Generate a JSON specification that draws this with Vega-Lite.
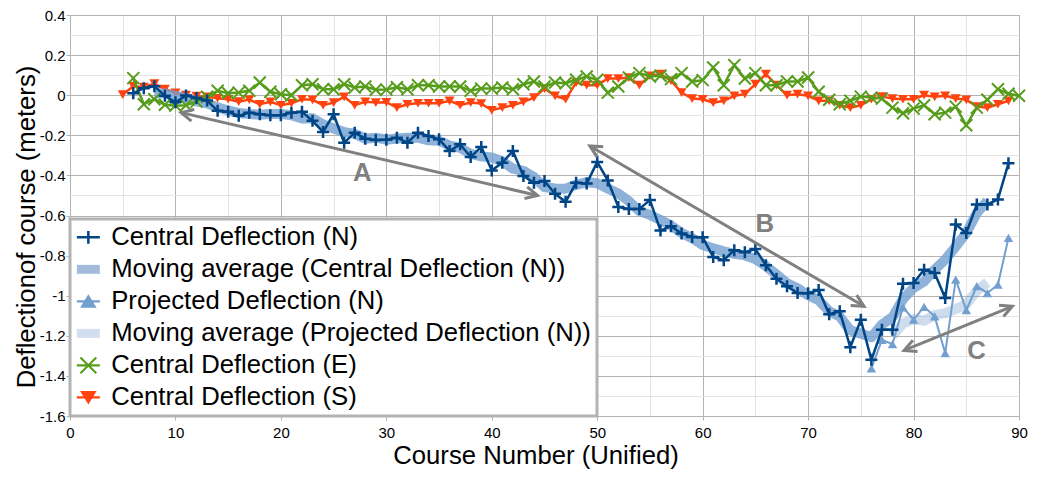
{
  "$schema": "https://vega.github.io/schema/vega-lite/v6.json",
  "description": "Course deflection per course number, with moving averages and annotated trend arrows",
  "width": 949,
  "height": 401,
  "autosize": "none",
  "padding": {"left": 70, "top": 15, "right": 26, "bottom": 63},
  "background": "white",
  "datasets": {
    "defl": [
      {"s": "N", "x": 6, "y": 0.01}, {"s": "N", "x": 7, "y": 0.035}, {"s": "N", "x": 8, "y": 0.045}, {"s": "N", "x": 9, "y": -0.003},
      {"s": "N", "x": 10, "y": -0.035}, {"s": "N", "x": 11, "y": -0.002}, {"s": "N", "x": 12, "y": -0.014}, {"s": "N", "x": 13, "y": -0.027},
      {"s": "N", "x": 14, "y": -0.078}, {"s": "N", "x": 15, "y": -0.083}, {"s": "N", "x": 16, "y": -0.103}, {"s": "N", "x": 17, "y": -0.087},
      {"s": "N", "x": 18, "y": -0.095}, {"s": "N", "x": 19, "y": -0.1}, {"s": "N", "x": 20, "y": -0.1}, {"s": "N", "x": 21, "y": -0.087},
      {"s": "N", "x": 22, "y": -0.083}, {"s": "N", "x": 23, "y": -0.128}, {"s": "N", "x": 24, "y": -0.183}, {"s": "N", "x": 25, "y": -0.095},
      {"s": "N", "x": 26, "y": -0.237}, {"s": "N", "x": 27, "y": -0.187}, {"s": "N", "x": 28, "y": -0.217}, {"s": "N", "x": 29, "y": -0.223},
      {"s": "N", "x": 30, "y": -0.222}, {"s": "N", "x": 31, "y": -0.212}, {"s": "N", "x": 32, "y": -0.237}, {"s": "N", "x": 33, "y": -0.187},
      {"s": "N", "x": 34, "y": -0.203}, {"s": "N", "x": 35, "y": -0.22}, {"s": "N", "x": 36, "y": -0.278}, {"s": "N", "x": 37, "y": -0.245},
      {"s": "N", "x": 38, "y": -0.308}, {"s": "N", "x": 39, "y": -0.258}, {"s": "N", "x": 40, "y": -0.375}, {"s": "N", "x": 41, "y": -0.337},
      {"s": "N", "x": 42, "y": -0.278}, {"s": "N", "x": 43, "y": -0.403}, {"s": "N", "x": 44, "y": -0.437}, {"s": "N", "x": 45, "y": -0.428},
      {"s": "N", "x": 46, "y": -0.492}, {"s": "N", "x": 47, "y": -0.532}, {"s": "N", "x": 48, "y": -0.437}, {"s": "N", "x": 49, "y": -0.441},
      {"s": "N", "x": 50, "y": -0.333}, {"s": "N", "x": 51, "y": -0.425}, {"s": "N", "x": 52, "y": -0.557}, {"s": "N", "x": 53, "y": -0.568},
      {"s": "N", "x": 54, "y": -0.567}, {"s": "N", "x": 55, "y": -0.523}, {"s": "N", "x": 56, "y": -0.675}, {"s": "N", "x": 57, "y": -0.653},
      {"s": "N", "x": 58, "y": -0.69}, {"s": "N", "x": 59, "y": -0.707}, {"s": "N", "x": 60, "y": -0.708}, {"s": "N", "x": 61, "y": -0.807},
      {"s": "N", "x": 62, "y": -0.823}, {"s": "N", "x": 63, "y": -0.773}, {"s": "N", "x": 64, "y": -0.783}, {"s": "N", "x": 65, "y": -0.767},
      {"s": "N", "x": 66, "y": -0.848}, {"s": "N", "x": 67, "y": -0.915}, {"s": "N", "x": 68, "y": -0.953}, {"s": "N", "x": 69, "y": -0.987},
      {"s": "N", "x": 70, "y": -0.988}, {"s": "N", "x": 71, "y": -0.972}, {"s": "N", "x": 72, "y": -1.092}, {"s": "N", "x": 73, "y": -1.078},
      {"s": "N", "x": 74, "y": -1.257}, {"s": "N", "x": 75, "y": -1.12}, {"s": "N", "x": 76, "y": -1.32}, {"s": "N", "x": 77, "y": -1.17},
      {"s": "N", "x": 78, "y": -1.17}, {"s": "N", "x": 79, "y": -0.94}, {"s": "N", "x": 80, "y": -0.937}, {"s": "N", "x": 81, "y": -0.87},
      {"s": "N", "x": 82, "y": -0.887}, {"s": "N", "x": 83, "y": -1.012}, {"s": "N", "x": 84, "y": -0.645}, {"s": "N", "x": 85, "y": -0.687},
      {"s": "N", "x": 86, "y": -0.545}, {"s": "N", "x": 87, "y": -0.545}, {"s": "N", "x": 88, "y": -0.52}, {"s": "N", "x": 89, "y": -0.34},

      {"s": "NMA", "x": 8, "y": 0.01}, {"s": "NMA", "x": 9, "y": 0.008}, {"s": "NMA", "x": 10, "y": -0.002}, {"s": "NMA", "x": 11, "y": -0.016},
      {"s": "NMA", "x": 12, "y": -0.031}, {"s": "NMA", "x": 13, "y": -0.041}, {"s": "NMA", "x": 14, "y": -0.061}, {"s": "NMA", "x": 15, "y": -0.076},
      {"s": "NMA", "x": 16, "y": -0.089}, {"s": "NMA", "x": 17, "y": -0.094}, {"s": "NMA", "x": 18, "y": -0.097}, {"s": "NMA", "x": 19, "y": -0.094},
      {"s": "NMA", "x": 20, "y": -0.093}, {"s": "NMA", "x": 21, "y": -0.1}, {"s": "NMA", "x": 22, "y": -0.116}, {"s": "NMA", "x": 23, "y": -0.115},
      {"s": "NMA", "x": 24, "y": -0.145}, {"s": "NMA", "x": 25, "y": -0.166}, {"s": "NMA", "x": 26, "y": -0.184}, {"s": "NMA", "x": 27, "y": -0.192},
      {"s": "NMA", "x": 28, "y": -0.217}, {"s": "NMA", "x": 29, "y": -0.212}, {"s": "NMA", "x": 30, "y": -0.222}, {"s": "NMA", "x": 31, "y": -0.216},
      {"s": "NMA", "x": 32, "y": -0.212}, {"s": "NMA", "x": 33, "y": -0.212}, {"s": "NMA", "x": 34, "y": -0.225}, {"s": "NMA", "x": 35, "y": -0.227},
      {"s": "NMA", "x": 36, "y": -0.251}, {"s": "NMA", "x": 37, "y": -0.262}, {"s": "NMA", "x": 38, "y": -0.293}, {"s": "NMA", "x": 39, "y": -0.305},
      {"s": "NMA", "x": 40, "y": -0.311}, {"s": "NMA", "x": 41, "y": -0.33}, {"s": "NMA", "x": 42, "y": -0.366}, {"s": "NMA", "x": 43, "y": -0.377},
      {"s": "NMA", "x": 44, "y": -0.408}, {"s": "NMA", "x": 45, "y": -0.458}, {"s": "NMA", "x": 46, "y": -0.465}, {"s": "NMA", "x": 47, "y": -0.466},
      {"s": "NMA", "x": 48, "y": -0.447}, {"s": "NMA", "x": 49, "y": -0.434}, {"s": "NMA", "x": 50, "y": -0.439}, {"s": "NMA", "x": 51, "y": -0.465},
      {"s": "NMA", "x": 52, "y": -0.49}, {"s": "NMA", "x": 53, "y": -0.528}, {"s": "NMA", "x": 54, "y": -0.578}, {"s": "NMA", "x": 55, "y": -0.597},
      {"s": "NMA", "x": 56, "y": -0.622}, {"s": "NMA", "x": 57, "y": -0.65}, {"s": "NMA", "x": 58, "y": -0.687}, {"s": "NMA", "x": 59, "y": -0.713},
      {"s": "NMA", "x": 60, "y": -0.747}, {"s": "NMA", "x": 61, "y": -0.764}, {"s": "NMA", "x": 62, "y": -0.779}, {"s": "NMA", "x": 63, "y": -0.791},
      {"s": "NMA", "x": 64, "y": -0.799}, {"s": "NMA", "x": 65, "y": -0.817}, {"s": "NMA", "x": 66, "y": -0.853}, {"s": "NMA", "x": 67, "y": -0.894},
      {"s": "NMA", "x": 68, "y": -0.938}, {"s": "NMA", "x": 69, "y": -0.963}, {"s": "NMA", "x": 70, "y": -0.998}, {"s": "NMA", "x": 71, "y": -1.023},
      {"s": "NMA", "x": 72, "y": -1.077}, {"s": "NMA", "x": 73, "y": -1.104}, {"s": "NMA", "x": 74, "y": -1.173}, {"s": "NMA", "x": 75, "y": -1.189},
      {"s": "NMA", "x": 76, "y": -1.207}, {"s": "NMA", "x": 77, "y": -1.144}, {"s": "NMA", "x": 78, "y": -1.107}, {"s": "NMA", "x": 79, "y": -1.017},
      {"s": "NMA", "x": 80, "y": -0.961}, {"s": "NMA", "x": 81, "y": -0.929}, {"s": "NMA", "x": 82, "y": -0.87}, {"s": "NMA", "x": 83, "y": -0.82},
      {"s": "NMA", "x": 84, "y": -0.755}, {"s": "NMA", "x": 85, "y": -0.687}, {"s": "NMA", "x": 86, "y": -0.588}, {"s": "NMA", "x": 87, "y": -0.527},

      {"s": "P", "x": 76, "y": -1.362}, {"s": "P", "x": 77, "y": -1.22}, {"s": "P", "x": 78, "y": -1.242}, {"s": "P", "x": 79, "y": -1.058},
      {"s": "P", "x": 80, "y": -1.12}, {"s": "P", "x": 81, "y": -1.056}, {"s": "P", "x": 82, "y": -1.103}, {"s": "P", "x": 83, "y": -1.286},
      {"s": "P", "x": 84, "y": -0.92}, {"s": "P", "x": 85, "y": -1.072}, {"s": "P", "x": 86, "y": -0.952}, {"s": "P", "x": 87, "y": -0.987},
      {"s": "P", "x": 88, "y": -0.945}, {"s": "P", "x": 89, "y": -0.712},

      {"s": "PMA", "x": 78, "y": -1.2}, {"s": "PMA", "x": 79, "y": -1.139}, {"s": "PMA", "x": 80, "y": -1.116}, {"s": "PMA", "x": 81, "y": -1.125},
      {"s": "PMA", "x": 82, "y": -1.097}, {"s": "PMA", "x": 83, "y": -1.087}, {"s": "PMA", "x": 84, "y": -1.067}, {"s": "PMA", "x": 85, "y": -1.043},
      {"s": "PMA", "x": 86, "y": -0.975}, {"s": "PMA", "x": 87, "y": -0.934},

      {"s": "E", "x": 6, "y": 0.085}, {"s": "E", "x": 7, "y": -0.045}, {"s": "E", "x": 8, "y": -0.02}, {"s": "E", "x": 9, "y": -0.048},
      {"s": "E", "x": 10, "y": -0.052}, {"s": "E", "x": 11, "y": -0.05}, {"s": "E", "x": 12, "y": -0.032}, {"s": "E", "x": 13, "y": -0.008},
      {"s": "E", "x": 14, "y": 0.022}, {"s": "E", "x": 15, "y": 0.01}, {"s": "E", "x": 16, "y": 0.013}, {"s": "E", "x": 17, "y": 0.022},
      {"s": "E", "x": 18, "y": 0.063}, {"s": "E", "x": 19, "y": 0.017}, {"s": "E", "x": 20, "y": 0.005}, {"s": "E", "x": 21, "y": 0.0},
      {"s": "E", "x": 22, "y": 0.05}, {"s": "E", "x": 23, "y": 0.055}, {"s": "E", "x": 24, "y": 0.03}, {"s": "E", "x": 25, "y": 0.03},
      {"s": "E", "x": 26, "y": 0.055}, {"s": "E", "x": 27, "y": 0.038}, {"s": "E", "x": 28, "y": 0.043}, {"s": "E", "x": 29, "y": 0.027},
      {"s": "E", "x": 30, "y": 0.028}, {"s": "E", "x": 31, "y": 0.04}, {"s": "E", "x": 32, "y": 0.03}, {"s": "E", "x": 33, "y": 0.05},
      {"s": "E", "x": 34, "y": 0.05}, {"s": "E", "x": 35, "y": 0.043}, {"s": "E", "x": 36, "y": 0.043}, {"s": "E", "x": 37, "y": 0.043},
      {"s": "E", "x": 38, "y": 0.022}, {"s": "E", "x": 39, "y": 0.033}, {"s": "E", "x": 40, "y": 0.033}, {"s": "E", "x": 41, "y": 0.038},
      {"s": "E", "x": 42, "y": 0.03}, {"s": "E", "x": 43, "y": 0.055}, {"s": "E", "x": 44, "y": 0.068}, {"s": "E", "x": 45, "y": 0.043},
      {"s": "E", "x": 46, "y": 0.063}, {"s": "E", "x": 47, "y": 0.06}, {"s": "E", "x": 48, "y": 0.077}, {"s": "E", "x": 49, "y": 0.093},
      {"s": "E", "x": 50, "y": 0.077}, {"s": "E", "x": 51, "y": 0.013}, {"s": "E", "x": 52, "y": 0.043}, {"s": "E", "x": 53, "y": 0.088},
      {"s": "E", "x": 54, "y": 0.11}, {"s": "E", "x": 55, "y": 0.093}, {"s": "E", "x": 56, "y": 0.097}, {"s": "E", "x": 57, "y": 0.08},
      {"s": "E", "x": 58, "y": 0.11}, {"s": "E", "x": 59, "y": 0.068}, {"s": "E", "x": 60, "y": 0.075}, {"s": "E", "x": 61, "y": 0.138},
      {"s": "E", "x": 62, "y": 0.05}, {"s": "E", "x": 63, "y": 0.15}, {"s": "E", "x": 64, "y": 0.083}, {"s": "E", "x": 65, "y": 0.11},
      {"s": "E", "x": 66, "y": 0.05}, {"s": "E", "x": 67, "y": 0.05}, {"s": "E", "x": 68, "y": 0.068}, {"s": "E", "x": 69, "y": 0.068},
      {"s": "E", "x": 70, "y": 0.088}, {"s": "E", "x": 71, "y": 0.017}, {"s": "E", "x": 72, "y": -0.023}, {"s": "E", "x": 73, "y": -0.045},
      {"s": "E", "x": 74, "y": -0.028}, {"s": "E", "x": 75, "y": -0.007}, {"s": "E", "x": 76, "y": -0.012}, {"s": "E", "x": 77, "y": -0.017},
      {"s": "E", "x": 78, "y": -0.062}, {"s": "E", "x": 79, "y": -0.09}, {"s": "E", "x": 80, "y": -0.067}, {"s": "E", "x": 81, "y": -0.05},
      {"s": "E", "x": 82, "y": -0.095}, {"s": "E", "x": 83, "y": -0.087}, {"s": "E", "x": 84, "y": -0.057}, {"s": "E", "x": 85, "y": -0.15},
      {"s": "E", "x": 86, "y": -0.062}, {"s": "E", "x": 87, "y": -0.023}, {"s": "E", "x": 88, "y": 0.03}, {"s": "E", "x": 89, "y": 0.007},
      {"s": "E", "x": 90, "y": -0.003},

      {"s": "S", "x": 5, "y": 0.003}, {"s": "S", "x": 6, "y": 0.045}, {"s": "S", "x": 7, "y": 0.04}, {"s": "S", "x": 8, "y": 0.058},
      {"s": "S", "x": 9, "y": 0.03}, {"s": "S", "x": 10, "y": 0.012}, {"s": "S", "x": 11, "y": 0.0}, {"s": "S", "x": 12, "y": -0.005},
      {"s": "S", "x": 13, "y": -0.008}, {"s": "S", "x": 14, "y": -0.015}, {"s": "S", "x": 15, "y": -0.02}, {"s": "S", "x": 16, "y": -0.032},
      {"s": "S", "x": 17, "y": -0.022}, {"s": "S", "x": 18, "y": -0.045}, {"s": "S", "x": 19, "y": -0.033}, {"s": "S", "x": 20, "y": -0.05},
      {"s": "S", "x": 21, "y": -0.04}, {"s": "S", "x": 22, "y": -0.02}, {"s": "S", "x": 23, "y": -0.023}, {"s": "S", "x": 24, "y": -0.05},
      {"s": "S", "x": 25, "y": -0.037}, {"s": "S", "x": 26, "y": -0.008}, {"s": "S", "x": 27, "y": -0.05}, {"s": "S", "x": 28, "y": -0.033},
      {"s": "S", "x": 29, "y": -0.037}, {"s": "S", "x": 30, "y": -0.035}, {"s": "S", "x": 31, "y": -0.062}, {"s": "S", "x": 32, "y": -0.045},
      {"s": "S", "x": 33, "y": -0.04}, {"s": "S", "x": 34, "y": -0.04}, {"s": "S", "x": 35, "y": -0.04}, {"s": "S", "x": 36, "y": -0.028},
      {"s": "S", "x": 37, "y": -0.05}, {"s": "S", "x": 38, "y": -0.037}, {"s": "S", "x": 39, "y": -0.042}, {"s": "S", "x": 40, "y": -0.075},
      {"s": "S", "x": 41, "y": -0.062}, {"s": "S", "x": 42, "y": -0.05}, {"s": "S", "x": 43, "y": -0.033}, {"s": "S", "x": 44, "y": -0.012},
      {"s": "S", "x": 45, "y": 0.033}, {"s": "S", "x": 46, "y": -0.003}, {"s": "S", "x": 47, "y": -0.02}, {"s": "S", "x": 48, "y": 0.063},
      {"s": "S", "x": 49, "y": 0.05}, {"s": "S", "x": 50, "y": 0.05}, {"s": "S", "x": 51, "y": 0.083}, {"s": "S", "x": 52, "y": 0.083},
      {"s": "S", "x": 53, "y": 0.088}, {"s": "S", "x": 54, "y": 0.05}, {"s": "S", "x": 55, "y": 0.097}, {"s": "S", "x": 56, "y": 0.105},
      {"s": "S", "x": 57, "y": 0.072}, {"s": "S", "x": 58, "y": 0.013}, {"s": "S", "x": 59, "y": -0.017}, {"s": "S", "x": 60, "y": -0.02},
      {"s": "S", "x": 61, "y": -0.037}, {"s": "S", "x": 62, "y": -0.028}, {"s": "S", "x": 63, "y": -0.003}, {"s": "S", "x": 64, "y": 0.005},
      {"s": "S", "x": 65, "y": 0.055}, {"s": "S", "x": 66, "y": 0.105}, {"s": "S", "x": 67, "y": 0.05}, {"s": "S", "x": 68, "y": 0.0},
      {"s": "S", "x": 69, "y": 0.005}, {"s": "S", "x": 70, "y": -0.003}, {"s": "S", "x": 71, "y": -0.028}, {"s": "S", "x": 72, "y": -0.028},
      {"s": "S", "x": 73, "y": -0.05}, {"s": "S", "x": 74, "y": -0.062}, {"s": "S", "x": 75, "y": -0.05}, {"s": "S", "x": 76, "y": -0.02},
      {"s": "S", "x": 77, "y": -0.007}, {"s": "S", "x": 78, "y": -0.017}, {"s": "S", "x": 79, "y": -0.02}, {"s": "S", "x": 80, "y": -0.02},
      {"s": "S", "x": 81, "y": 0.0}, {"s": "S", "x": 82, "y": -0.008}, {"s": "S", "x": 83, "y": -0.003}, {"s": "S", "x": 84, "y": -0.017},
      {"s": "S", "x": 85, "y": -0.023}, {"s": "S", "x": 86, "y": -0.057}, {"s": "S", "x": 87, "y": -0.062}, {"s": "S", "x": 88, "y": -0.045},
      {"s": "S", "x": 89, "y": -0.028}
    ],
    "heads": [
      {"arrow": "A", "end": "tail", "x": 10.54, "y": -0.087},
      {"arrow": "A", "end": "tip", "x": 44.34, "y": -0.5},
      {"arrow": "B", "end": "tail", "x": 49.3, "y": -0.253},
      {"arrow": "B", "end": "tip", "x": 75.3, "y": -1.053},
      {"arrow": "C", "end": "tail", "x": 79.1, "y": -1.273},
      {"arrow": "C", "end": "tip", "x": 89.37, "y": -1.053}
    ],
    "letters": [
      {"label": "A", "x": 27.73, "y": -0.39},
      {"label": "B", "x": 65.9, "y": -0.64},
      {"label": "C", "x": 85.97, "y": -1.278}
    ]
  },
  "data": {"name": "defl"},
  "encoding": {
    "x": {
      "field": "x",
      "type": "quantitative",
      "title": "Course Number (Unified)",
      "scale": {"domain": [0, 90], "nice": false, "zero": false},
      "axis": {
        "values": [0, 5, 10, 15, 20, 25, 30, 35, 40, 45, 50, 55, 60, 65, 70, 75, 80, 85, 90],
        "grid": true,
        "gridColor": {"condition": {"test": "datum.value % 10 === 0", "value": "#b3b3b3"}, "value": "#e4e4e4"},
        "domain": false,
        "tickSize": 4,
        "tickColor": {"condition": {"test": "datum.value % 10 === 0", "value": "#b3b3b3"}, "value": "transparent"},
        "labelExpr": "datum.value % 10 === 0 ? datum.label : ''",
        "labelOverlap": false,
        "labelFlush": false,
        "labelFontSize": 15,
        "labelColor": "#000000",
        "labelPadding": 5,
        "labelDx": 3,
        "titleFontSize": 25.7,
        "titleFontWeight": "normal",
        "titleColor": "#000000",
        "titlePadding": 3,
        "titleX": 465.5
      }
    },
    "y": {
      "field": "y",
      "type": "quantitative",
      "title": "Deflectionof course (meters)",
      "scale": {"domain": [-1.6, 0.4], "nice": false, "zero": false},
      "axis": {
        "values": [-1.6, -1.5, -1.4, -1.3, -1.2, -1.1, -1, -0.9, -0.8, -0.7, -0.6, -0.5, -0.4, -0.3, -0.2, -0.1, 0, 0.1, 0.2, 0.3, 0.4],
        "grid": true,
        "gridColor": {"condition": {"test": "abs(datum.value * 5 - round(datum.value * 5)) < 0.001", "value": "#b3b3b3"}, "value": "#e4e4e4"},
        "domain": false,
        "tickSize": 4,
        "tickColor": {"condition": {"test": "abs(datum.value * 5 - round(datum.value * 5)) < 0.001", "value": "#b3b3b3"}, "value": "transparent"},
        "labelExpr": "abs(datum.value * 5 - round(datum.value * 5)) < 0.001 ? '' + datum.value : ''",
        "labelOverlap": false,
        "labelFlush": false,
        "labelFontSize": 15,
        "labelColor": "#000000",
        "labelPadding": 1,
        "titleFontSize": 25.7,
        "titleFontWeight": "normal",
        "titleColor": "#000000",
        "titlePadding": 0,
        "titleY": 211.5
      }
    }
  },
  "layer": [
    {
      "transform": [{"filter": "datum.s === 'S'"}],
      "mark": {"type": "line", "color": "#ff420e", "strokeWidth": 2.5}
    },
    {
      "transform": [{"filter": "datum.s === 'S'"}],
      "mark": {"type": "point", "shape": "triangle-down", "filled": true, "size": 100, "color": "#ff420e", "opacity": 1}
    },
    {
      "transform": [{"filter": "datum.s === 'NMA'"}],
      "mark": {"type": "line", "color": "#729fcf", "opacity": 0.8, "strokeWidth": 10, "strokeJoin": "round"}
    },
    {
      "transform": [{"filter": "datum.s === 'PMA'"}],
      "mark": {"type": "line", "color": "#729fcf", "opacity": 0.35, "strokeWidth": 10, "strokeJoin": "round"}
    },
    {
      "transform": [{"filter": "datum.s === 'E'"}],
      "mark": {"type": "line", "color": "#579d1c", "strokeWidth": 2.5}
    },
    {
      "transform": [{"filter": "datum.s === 'E'"}],
      "mark": {"type": "point", "shape": "M-1,-1L1,1M-1,1L1,-1", "filled": false, "size": 144, "color": "#579d1c", "strokeWidth": 2, "opacity": 1}
    },
    {
      "transform": [{"filter": "datum.s === 'P'"}],
      "mark": {"type": "line", "color": "#729fcf", "strokeWidth": 2}
    },
    {
      "transform": [{"filter": "datum.s === 'P'"}],
      "mark": {"type": "point", "shape": "triangle-up", "filled": true, "size": 90, "color": "#729fcf", "opacity": 1}
    },
    {
      "transform": [{"filter": "datum.s === 'N'"}],
      "mark": {"type": "line", "color": "#004586", "strokeWidth": 2.5}
    },
    {
      "transform": [{"filter": "datum.s === 'N'"}],
      "mark": {"type": "point", "shape": "M-1,0H1M0,-1V1", "filled": false, "size": 144, "color": "#004586", "strokeWidth": 2.5, "opacity": 1}
    },
    {
      "data": {"name": "heads"},
      "mark": {"type": "line", "color": "#808080", "strokeWidth": 3},
      "encoding": {"detail": {"field": "arrow"}}
    },
    {
      "data": {"name": "heads"},
      "mark": {"type": "point", "shape": "M-1,-0.5L0,0L-1,0.5", "filled": false, "size": 576, "color": "#808080", "strokeWidth": 3, "opacity": 1},
      "encoding": {
        "angle": {
          "condition": [
            {"test": "datum.arrow === 'A' && datum.end === 'tip'", "value": 13.1},
            {"test": "datum.arrow === 'A'", "value": 193.1},
            {"test": "datum.arrow === 'B' && datum.end === 'tip'", "value": 30.3},
            {"test": "datum.arrow === 'B'", "value": 210.3},
            {"test": "datum.end === 'tip'", "value": -22.2}
          ],
          "value": 157.8
        }
      }
    },
    {
      "data": {"name": "letters"},
      "mark": {"type": "text", "fontSize": 25.7, "fontWeight": "bold", "color": "#808080", "align": "center", "baseline": "middle"},
      "encoding": {"text": {"field": "label"}}
    },
    {
      "transform": [{"filter": "datum.x > 1000"}],
      "mark": {"type": "point", "filled": true, "size": 529, "opacity": 1},
      "encoding": {
        "color": {
          "field": "s",
          "type": "nominal",
          "scale": {
            "domain": ["N", "NMA", "P", "PMA", "E", "S"],
            "range": ["#004586", "#a3bcdc", "#729fcf", "#d2dff0", "#579d1c", "#ff420e"]
          },
          "legend": {
            "orient": "bottom-left",
            "title": null,
            "zindex": 1,
            "labelExpr": "datum.value === 'N' ? 'Central Deflection (N)' : datum.value === 'NMA' ? 'Moving average (Central Deflection (N))' : datum.value === 'P' ? 'Projected Deflection (N)' : datum.value === 'PMA' ? 'Moving average (Projected Deflection (N))' : datum.value === 'E' ? 'Central Deflection (E)' : 'Central Deflection (S)'"
          }
        },
        "shape": {
          "field": "s",
          "type": "nominal",
          "scale": {
            "domain": ["N", "NMA", "P", "PMA", "E", "S"],
            "range": [
              "M-1,-0.11H1V0.11H-1ZM-0.11,-0.56H0.11V0.56H-0.11Z",
              "M-1,-0.39H1V0.39H-1Z",
              "M-1,-0.09H1V0.09H-1ZM0,-0.62L0.72,0.56H-0.72Z",
              "M-1,-0.39H1V0.39H-1Z",
              "M-1,-0.1H1V0.1H-1ZM-0.626,-0.754L0.754,0.626L0.626,0.754L-0.754,-0.626ZM-0.754,0.626L0.626,-0.754L0.754,-0.626L-0.626,0.754Z",
              "M-1,-0.09H1V0.09H-1ZM-0.72,-0.56H0.72L0,0.62Z"
            ]
          },
          "legend": {
            "orient": "bottom-left",
            "title": null,
            "zindex": 1,
            "labelExpr": "datum.value === 'N' ? 'Central Deflection (N)' : datum.value === 'NMA' ? 'Moving average (Central Deflection (N))' : datum.value === 'P' ? 'Projected Deflection (N)' : datum.value === 'PMA' ? 'Moving average (Projected Deflection (N))' : datum.value === 'E' ? 'Central Deflection (E)' : 'Central Deflection (S)'"
          }
        }
      }
    }
  ],
  "config": {
    "font": "Liberation Sans",
    "view": {"stroke": "#b3b3b3", "strokeWidth": 1},
    "legend": {
      "offset": 0,
      "padding": 5.5,
      "rowPadding": 5,
      "labelFontSize": 25.7,
      "labelColor": "#000000",
      "labelLimit": 700,
      "labelOffset": 10,
      "symbolSize": 529,
      "symbolStrokeWidth": 0,
      "fillColor": "#ffffff",
      "strokeColor": "#b3b3b3",
      "strokeWidth": 3
    }
  }
}
